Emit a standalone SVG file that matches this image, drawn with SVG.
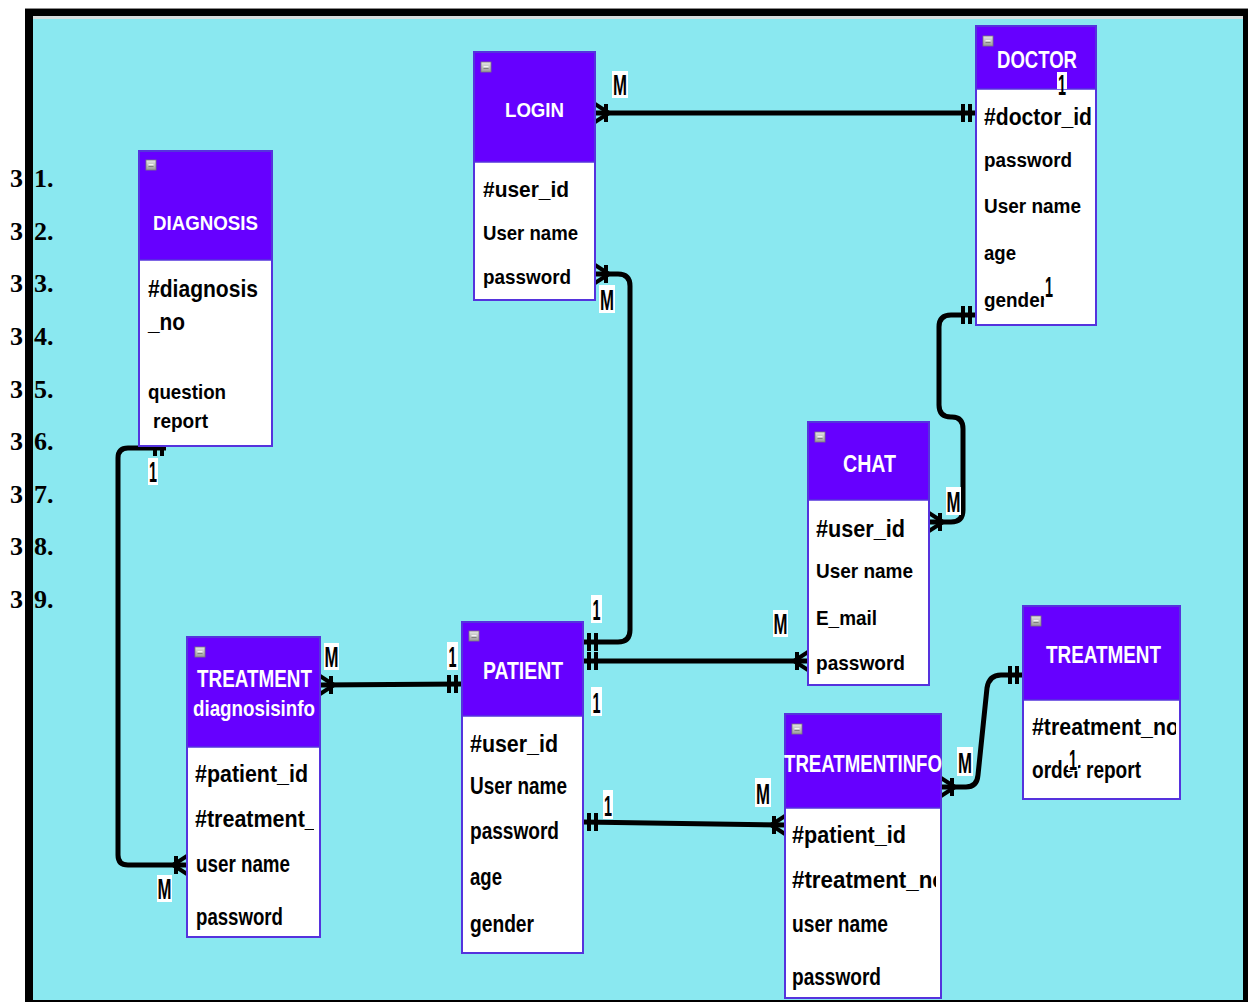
<svg xmlns="http://www.w3.org/2000/svg" xmlns:xlink="http://www.w3.org/1999/xlink" width="1248" height="1002" viewBox="0 0 1248 1002">
  <style>
    .hd { fill: #6600ff; }
    .bd { fill: #ffffff; }
    .edge { fill: none; stroke: #5533dd; stroke-width: 2; }
    .sep { stroke: #5533dd; stroke-width: 1.5; }
    .t { font-family: "Liberation Sans", Arial, sans-serif; font-weight: bold; fill: #ffffff; }
    .a { font-family: "Liberation Sans", Arial, sans-serif; font-weight: bold; fill: #000000; }
    .num { font-family: "Liberation Serif", "Times New Roman", serif; font-weight: bold; font-size: 26px; fill: #000000; }
    .lb rect { fill: #ffffff; }
    .lb text { font-family: "Liberation Sans", Arial, sans-serif; font-weight: bold; font-size: 29px; fill: #000000; text-anchor: middle; }
    .ln { fill: none; stroke: #000000; stroke-width: 5; stroke-linejoin: round; }
    .mk { fill: none; stroke: #000000; stroke-width: 4; }
  </style>
  <defs>
    <linearGradient id="iconFill" x1="0" y1="0" x2="0" y2="1">
      <stop offset="0" stop-color="#e6e6e6"/>
      <stop offset="1" stop-color="#9a9a9a"/>
    </linearGradient>
    <!-- collapse button in each entity header -->
    <g id="minus">
      <rect x="0" y="0" width="10" height="10" fill="url(#iconFill)" stroke="#7a7a7a" stroke-width="0.8"/>
      <line x1="2.5" y1="5" x2="7.5" y2="5" stroke="#ffffff" stroke-width="1.6"/>
      <line x1="2.5" y1="6.2" x2="7.5" y2="6.2" stroke="#555555" stroke-width="0.8"/>
    </g>
    <!-- crow's foot (one-or-many); origin sits on the entity edge, line runs toward +x -->
    <g id="many" class="mk">
      <path d="M0,-9 L14,0 M0,0 L14,0 M0,9 L14,0"/>
      <path d="M11,-9 L11,9"/>
    </g>
    <!-- exactly one (double bar); origin on entity edge, line runs toward +x -->
    <g id="one" class="mk">
      <path d="M6,-9 L6,9 M13,-9 L13,9"/>
    </g>
    <clipPath id="clipTD"><rect x="187" y="747" width="127" height="190"/></clipPath>
    <clipPath id="clipTI"><rect x="785" y="808" width="151" height="190"/></clipPath>
    <clipPath id="clipTR"><rect x="1023" y="700" width="153" height="99"/></clipPath>
  </defs>

  <!-- page and frame -->
  <rect x="0" y="0" width="1248" height="1002" fill="#ffffff"/>
  <rect x="25" y="8" width="1223" height="994" fill="#000000"/>
  <rect x="25" y="8" width="1223" height="1" fill="#8c8c8c"/>
  <rect x="33" y="16" width="1210" height="984" fill="#8ae8f0"/>
  <rect x="33" y="16" width="1210" height="3" fill="#d8dcdc"/>

  <!-- numbered list margin -->
  <g id="margin-numbers" class="num">
    <text x="10" y="187">3</text><text x="34" y="187">1.</text>
    <text x="10" y="240">3</text><text x="34" y="240">2.</text>
    <text x="10" y="292">3</text><text x="34" y="292">3.</text>
    <text x="10" y="345">3</text><text x="34" y="345">4.</text>
    <text x="10" y="398">3</text><text x="34" y="398">5.</text>
    <text x="10" y="450">3</text><text x="34" y="450">6.</text>
    <text x="10" y="503">3</text><text x="34" y="503">7.</text>
    <text x="10" y="555">3</text><text x="34" y="555">8.</text>
    <text x="10" y="608">3</text><text x="34" y="608">9.</text>
  </g>

  <!-- relationship lines -->
  <g id="connectors">
    <path class="ln" d="M595,113 L976,113"/>
    <use xlink:href="#many" transform="translate(595,113)"/>
    <use xlink:href="#one" transform="translate(976,113) rotate(180)"/>

    <path class="ln" d="M595,274 L618,274 Q630,274 630,286 L630,630 Q630,642 618,642 L583,642"/>
    <use xlink:href="#many" transform="translate(595,274)"/>
    <use xlink:href="#one" transform="translate(583,642)"/>

    <path class="ln" d="M583,661 L808,661"/>
    <use xlink:href="#one" transform="translate(583,661)"/>
    <use xlink:href="#many" transform="translate(808,661) rotate(180)"/>

    <path class="ln" d="M583,822 L785,825"/>
    <use xlink:href="#one" transform="translate(583,822)"/>
    <use xlink:href="#many" transform="translate(785,825) rotate(180)"/>

    <path class="ln" d="M320,685 L462,684"/>
    <use xlink:href="#many" transform="translate(320,685)"/>
    <use xlink:href="#one" transform="translate(462,684) rotate(180)"/>

    <path class="ln" d="M166,448 L128,448 Q118,448 118,458 L118,855 Q118,865 128,865 L187,865"/>
    <use xlink:href="#one" transform="translate(168,447) rotate(180)"/>
    <use xlink:href="#many" transform="translate(187,865) rotate(180)"/>

    <path class="ln" d="M976,315 L951,315 Q939,315 939,327 L939,405 Q939,417 951,417 L952,417 Q963,417 963,429 L963,510 Q963,522 951,522 L929,522"/>
    <use xlink:href="#one" transform="translate(976,315) rotate(180)"/>
    <use xlink:href="#many" transform="translate(929,522)"/>

    <path class="ln" d="M941,787 L966,787 Q977,787 978,775 L987,688 Q989,675 1001,675 L1023,675"/>
    <use xlink:href="#many" transform="translate(941,787)"/>
    <use xlink:href="#one" transform="translate(1023,675) rotate(180)"/>
  </g>

  <!-- entities -->
  <g id="diagnosis">
    <rect class="hd" x="139" y="151" width="133" height="109"/>
    <rect class="bd" x="139" y="260" width="133" height="186"/>
    <line class="sep" x1="139" y1="260" x2="272" y2="260"/>
    <rect class="edge" x="139" y="151" width="133" height="295"/>
    <use xlink:href="#minus" x="146" y="160"/>
    <text class="t" x="153" y="230" font-size="21" textLength="105" lengthAdjust="spacingAndGlyphs">DIAGNOSIS</text>
    <text class="a" x="148" y="297" font-size="23" textLength="110" lengthAdjust="spacingAndGlyphs">#diagnosis</text>
    <text class="a" x="148" y="330" font-size="23" textLength="37" lengthAdjust="spacingAndGlyphs">_no</text>
    <text class="a" x="148" y="399" font-size="21" textLength="78" lengthAdjust="spacingAndGlyphs">question</text>
    <text class="a" x="153" y="428" font-size="21" textLength="55" lengthAdjust="spacingAndGlyphs">report</text>
  </g>

  <g id="login">
    <rect class="hd" x="474" y="52" width="121" height="110"/>
    <rect class="bd" x="474" y="162" width="121" height="138"/>
    <line class="sep" x1="474" y1="162" x2="595" y2="162"/>
    <rect class="edge" x="474" y="52" width="121" height="248"/>
    <use xlink:href="#minus" x="481" y="62"/>
    <text class="t" x="505" y="117" font-size="21" textLength="59" lengthAdjust="spacingAndGlyphs">LOGIN</text>
    <text class="a" x="483" y="197" font-size="22" textLength="86" lengthAdjust="spacingAndGlyphs">#user_id</text>
    <text class="a" x="483" y="240" font-size="21" textLength="95" lengthAdjust="spacingAndGlyphs">User name</text>
    <text class="a" x="483" y="284" font-size="21" textLength="88" lengthAdjust="spacingAndGlyphs">password</text>
  </g>

  <g id="doctor">
    <rect class="hd" x="976" y="26" width="120" height="63"/>
    <rect class="bd" x="976" y="89" width="120" height="236"/>
    <line class="sep" x1="976" y1="89" x2="1096" y2="89"/>
    <rect class="edge" x="976" y="26" width="120" height="299"/>
    <use xlink:href="#minus" x="983" y="36"/>
    <text class="t" x="997" y="68" font-size="23" textLength="80" lengthAdjust="spacingAndGlyphs">DOCTOR</text>
    <text class="a" x="984" y="125" font-size="23" textLength="108" lengthAdjust="spacingAndGlyphs">#doctor_id</text>
    <text class="a" x="984" y="167" font-size="20" textLength="88" lengthAdjust="spacingAndGlyphs">password</text>
    <text class="a" x="984" y="213" font-size="20" textLength="97" lengthAdjust="spacingAndGlyphs">User name</text>
    <text class="a" x="984" y="260" font-size="20" textLength="32" lengthAdjust="spacingAndGlyphs">age</text>
    <text class="a" x="984" y="307" font-size="20" textLength="63" lengthAdjust="spacingAndGlyphs">gender</text>
  </g>

  <g id="chat">
    <rect class="hd" x="808" y="422" width="121" height="78"/>
    <rect class="bd" x="808" y="500" width="121" height="185"/>
    <line class="sep" x1="808" y1="500" x2="929" y2="500"/>
    <rect class="edge" x="808" y="422" width="121" height="263"/>
    <use xlink:href="#minus" x="815" y="432"/>
    <text class="t" x="843" y="472" font-size="24" textLength="53" lengthAdjust="spacingAndGlyphs">CHAT</text>
    <text class="a" x="816" y="537" font-size="23" textLength="89" lengthAdjust="spacingAndGlyphs">#user_id</text>
    <text class="a" x="816" y="578" font-size="21" textLength="97" lengthAdjust="spacingAndGlyphs">User name</text>
    <text class="a" x="816" y="625" font-size="21" textLength="61" lengthAdjust="spacingAndGlyphs">E_mail</text>
    <text class="a" x="816" y="670" font-size="21" textLength="89" lengthAdjust="spacingAndGlyphs">password</text>
  </g>

  <g id="patient">
    <rect class="hd" x="462" y="622" width="121" height="94"/>
    <rect class="bd" x="462" y="716" width="121" height="237"/>
    <line class="sep" x1="462" y1="716" x2="583" y2="716"/>
    <rect class="edge" x="462" y="622" width="121" height="331"/>
    <use xlink:href="#minus" x="469" y="631"/>
    <text class="t" x="483" y="679" font-size="24" textLength="80" lengthAdjust="spacingAndGlyphs">PATIENT</text>
    <text class="a" x="470" y="752" font-size="24" textLength="88" lengthAdjust="spacingAndGlyphs">#user_id</text>
    <text class="a" x="470" y="794" font-size="23" textLength="97" lengthAdjust="spacingAndGlyphs">User name</text>
    <text class="a" x="470" y="839" font-size="23" textLength="89" lengthAdjust="spacingAndGlyphs">password</text>
    <text class="a" x="470" y="885" font-size="23" textLength="32" lengthAdjust="spacingAndGlyphs">age</text>
    <text class="a" x="470" y="932" font-size="23" textLength="64" lengthAdjust="spacingAndGlyphs">gender</text>
  </g>

  <g id="treatment-diagnosisinfo">
    <rect class="hd" x="187" y="637" width="133" height="110"/>
    <rect class="bd" x="187" y="747" width="133" height="190"/>
    <line class="sep" x1="187" y1="747" x2="320" y2="747"/>
    <rect class="edge" x="187" y="637" width="133" height="300"/>
    <use xlink:href="#minus" x="195" y="647"/>
    <text class="t" x="197" y="687" font-size="23" textLength="115" lengthAdjust="spacingAndGlyphs">TREATMENT</text>
    <text class="t" x="193" y="716" font-size="22" textLength="122" lengthAdjust="spacingAndGlyphs">diagnosisinfo</text>
    <text class="a" x="195" y="782" font-size="24" textLength="113" lengthAdjust="spacingAndGlyphs">#patient_id</text>
    <text class="a" x="195" y="827" font-size="24" textLength="148" lengthAdjust="spacingAndGlyphs" clip-path="url(#clipTD)">#treatment_no</text>
    <text class="a" x="196" y="872" font-size="23" textLength="94" lengthAdjust="spacingAndGlyphs">user name</text>
    <text class="a" x="196" y="925" font-size="23" textLength="87" lengthAdjust="spacingAndGlyphs">password</text>
  </g>

  <g id="treatmentinfo">
    <rect class="hd" x="785" y="714" width="156" height="94"/>
    <rect class="bd" x="785" y="808" width="156" height="190"/>
    <line class="sep" x1="785" y1="808" x2="941" y2="808"/>
    <rect class="edge" x="785" y="714" width="156" height="284"/>
    <use xlink:href="#minus" x="792" y="724"/>
    <text class="t" x="784" y="772" font-size="23" textLength="158" lengthAdjust="spacingAndGlyphs">TREATMENTINFO</text>
    <text class="a" x="792" y="843" font-size="24" textLength="114" lengthAdjust="spacingAndGlyphs">#patient_id</text>
    <text class="a" x="792" y="888" font-size="24" textLength="154" lengthAdjust="spacingAndGlyphs" clip-path="url(#clipTI)">#treatment_no</text>
    <text class="a" x="792" y="932" font-size="24" textLength="96" lengthAdjust="spacingAndGlyphs">user name</text>
    <text class="a" x="792" y="985" font-size="24" textLength="89" lengthAdjust="spacingAndGlyphs">password</text>
  </g>

  <g id="treatment">
    <rect class="hd" x="1023" y="606" width="157" height="94"/>
    <rect class="bd" x="1023" y="700" width="157" height="99"/>
    <line class="sep" x1="1023" y1="700" x2="1180" y2="700"/>
    <rect class="edge" x="1023" y="606" width="157" height="193"/>
    <use xlink:href="#minus" x="1031" y="616"/>
    <text class="t" x="1046" y="663" font-size="23" textLength="115" lengthAdjust="spacingAndGlyphs">TREATMENT</text>
    <text class="a" x="1032" y="735" font-size="24" textLength="147" lengthAdjust="spacingAndGlyphs" clip-path="url(#clipTR)">#treatment_no</text>
    <text class="a" x="1032" y="778" font-size="23" textLength="109" lengthAdjust="spacingAndGlyphs">order report</text>
  </g>

  <!-- cardinality labels -->
  <g id="labels" class="lb">
    <rect x="612" y="71" width="16" height="27"/><text x="620" y="95" textLength="14" lengthAdjust="spacingAndGlyphs">M</text>
    <rect x="1057" y="72" width="10" height="17"/><text x="1062" y="95" textLength="8" lengthAdjust="spacingAndGlyphs">1</text>
    <rect x="599" y="285" width="16" height="28"/><text x="607" y="310" textLength="14" lengthAdjust="spacingAndGlyphs">M</text>
    <rect x="591" y="595" width="11" height="28"/><text x="596.5" y="620" textLength="8" lengthAdjust="spacingAndGlyphs">1</text>
    <rect x="591" y="687" width="11" height="29"/><text x="596.5" y="713" textLength="8" lengthAdjust="spacingAndGlyphs">1</text>
    <rect x="773" y="610" width="15" height="27"/><text x="780.5" y="634" textLength="14" lengthAdjust="spacingAndGlyphs">M</text>
    <rect x="603" y="790" width="10" height="29"/><text x="608" y="816" textLength="8" lengthAdjust="spacingAndGlyphs">1</text>
    <rect x="755" y="778" width="16" height="29"/><text x="763" y="804" textLength="14" lengthAdjust="spacingAndGlyphs">M</text>
    <rect x="324" y="643" width="15" height="27"/><text x="331.5" y="667" textLength="14" lengthAdjust="spacingAndGlyphs">M</text>
    <rect x="447" y="642" width="11" height="28"/><text x="452.5" y="667" textLength="8" lengthAdjust="spacingAndGlyphs">1</text>
    <rect x="148" y="458" width="10" height="27"/><text x="153" y="482" textLength="8" lengthAdjust="spacingAndGlyphs">1</text>
    <rect x="157" y="875" width="15" height="27"/><text x="164.5" y="899" textLength="14" lengthAdjust="spacingAndGlyphs">M</text>
    <rect x="946" y="487" width="15" height="28"/><text x="953.5" y="512" textLength="14" lengthAdjust="spacingAndGlyphs">M</text>
    <rect x="1044" y="277" width="10" height="22"/><text x="1049" y="297" textLength="8" lengthAdjust="spacingAndGlyphs">1</text>
    <rect x="957" y="747" width="16" height="29"/><text x="965" y="773" textLength="14" lengthAdjust="spacingAndGlyphs">M</text>
    <rect x="1068" y="752" width="10" height="19"/><text x="1073" y="770" textLength="8" lengthAdjust="spacingAndGlyphs">1</text>
  </g>
</svg>
